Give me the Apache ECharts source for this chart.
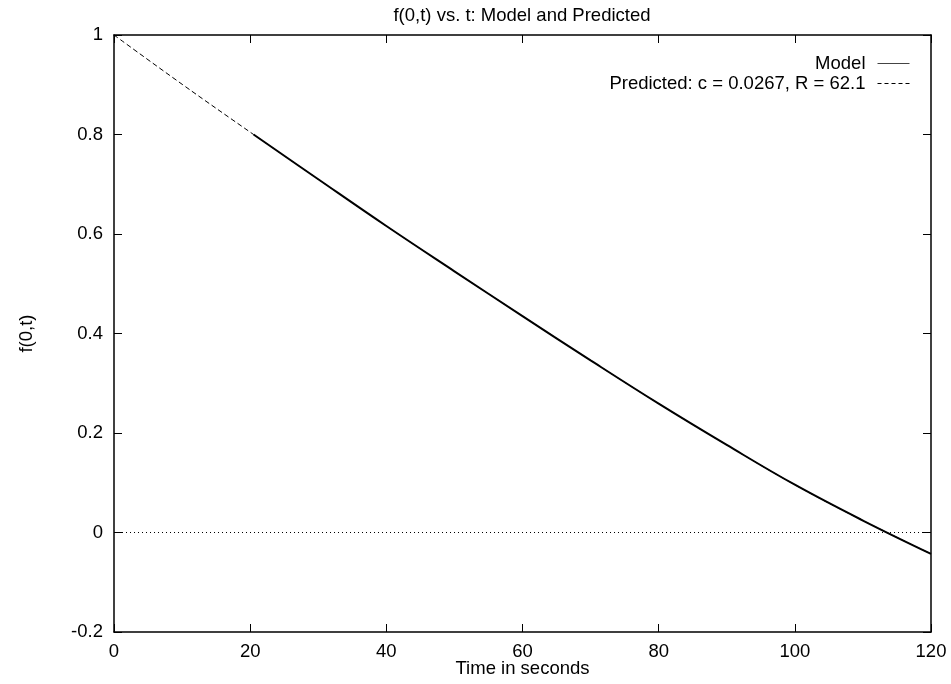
<!DOCTYPE html>
<html>
<head>
<meta charset="utf-8">
<script src="https://cdn.jsdelivr.net/npm/echarts@6/dist/echarts.min.js"></script>
<style>
html,body{margin:0;padding:0;background:#fff;}
#chart{width:951px;height:684px;}
</style>
</head>
<body>
<div id="chart"></div>
<script>
// Data
var titleText = 'f(0,t) vs. t: Model and Predicted';
var xName = 'Time in seconds';
var yName = 'f(0,t)';
var modelName = 'Model';
var predictedName = 'Predicted: c = 0.0267, R = 62.1';

var modelT = [20.5, 30, 40, 50, 60, 70, 80, 90, 100, 110, 120];
var modelF = [0.800, 0.710, 0.616, 0.525, 0.435, 0.346, 0.259, 0.176, 0.096, 0.024, -0.043];

var predT = [0, 10, 20.5, 30, 40, 50, 60, 70, 80, 90, 100, 110, 120];
var predF = [1.000, 0.901, 0.800, 0.710, 0.616, 0.525, 0.435, 0.346, 0.259, 0.176, 0.096, 0.024, -0.043];

var xTicks = {min: 0, max: 120, interval: 20};
var yTicks = {min: -0.2, max: 1, interval: 0.2};

function pairs(xs, ys) { return xs.map(function (x, i) { return [x, ys[i]]; }); }

var FONT = 'Liberation Sans, Arial, Helvetica, sans-serif';
var FS = 18.5;

var chart = echarts.init(document.getElementById('chart'), null, {renderer: 'canvas'});

var axisLine = {show: true, onZero: false, lineStyle: {color: '#000', width: 1.5}};
var tick = {show: true, inside: true, length: 8, lineStyle: {color: '#000', width: 1}};

var legendCommon = {
  orient: 'vertical', right: 41, align: 'right',
  itemWidth: 32, itemHeight: 14, itemGap: 12, padding: 0, selectedMode: false,
  textStyle: {fontFamily: FONT, fontSize: FS, color: '#000', padding: [0, 7, 0, 0]},
  itemStyle: {opacity: 0, color: 'transparent', borderWidth: 0}
};

chart.setOption({
  animation: false,
  backgroundColor: '#fff',
  title: {
    text: titleText,
    left: 522, top: 6, padding: 0,
    textAlign: 'center',
    textStyle: {fontFamily: FONT, fontSize: FS, fontWeight: 'normal', color: '#000'}
  },
  legend: [
    Object.assign({}, legendCommon, {
      data: [modelName], top: 54,
      lineStyle: {width: 1, color: '#444', type: 'solid'}
    }),
    Object.assign({}, legendCommon, {
      data: [predictedName], top: 74,
      lineStyle: {width: 1, color: '#000', type: [4, 3]}
    })
  ],
  grid: {left: 114, right: 20, top: 35, bottom: 52, containLabel: false, outerBoundsMode: 'none'},
  xAxis: [
    {
      type: 'value', position: 'bottom', min: xTicks.min, max: xTicks.max, interval: xTicks.interval,
      name: xName, nameLocation: 'middle', nameGap: 27, nameMoveOverlap: false,
      nameTextStyle: {fontFamily: FONT, fontSize: FS, color: '#000'},
      axisLine: axisLine, axisTick: tick,
      axisLabel: {fontFamily: FONT, fontSize: FS, color: '#000', margin: 10},
      splitLine: {show: false}
    },
    {
      type: 'value', position: 'top', min: xTicks.min, max: xTicks.max, interval: xTicks.interval,
      axisLine: axisLine, axisTick: tick, axisLabel: {show: false}, splitLine: {show: false}
    }
  ],
  yAxis: [
    {
      type: 'value', position: 'left', min: yTicks.min, max: yTicks.max, interval: yTicks.interval,
      name: yName, nameLocation: 'middle', nameGap: 78, nameMoveOverlap: false,
      nameTextStyle: {fontFamily: FONT, fontSize: FS, color: '#000'},
      axisLine: axisLine, axisTick: tick,
      axisLabel: {fontFamily: FONT, fontSize: FS, color: '#000', margin: 11},
      splitLine: {show: false}
    },
    {
      type: 'value', position: 'right', min: yTicks.min, max: yTicks.max, interval: yTicks.interval,
      axisLine: axisLine, axisTick: tick, axisLabel: {show: false}, splitLine: {show: false}
    }
  ],
  series: [
    {
      name: predictedName, type: 'line', data: pairs(predT, predF),
      symbol: 'none', z: 2, smooth: 0.4,
      lineStyle: {color: '#000', width: 1, type: [5, 3]},
      itemStyle: {color: '#000'},
      markLine: {
        silent: true, symbol: 'none', label: {show: false},
        lineStyle: {color: '#000', width: 1, type: [1, 3]},
        data: [{yAxis: 0}]
      }
    },
    {
      name: modelName, type: 'line', data: pairs(modelT, modelF),
      symbol: 'none', z: 3, smooth: 0.4,
      lineStyle: {color: '#000', width: 2},
      itemStyle: {color: '#000'}
    }
  ]
});
</script>
</body>
</html>
